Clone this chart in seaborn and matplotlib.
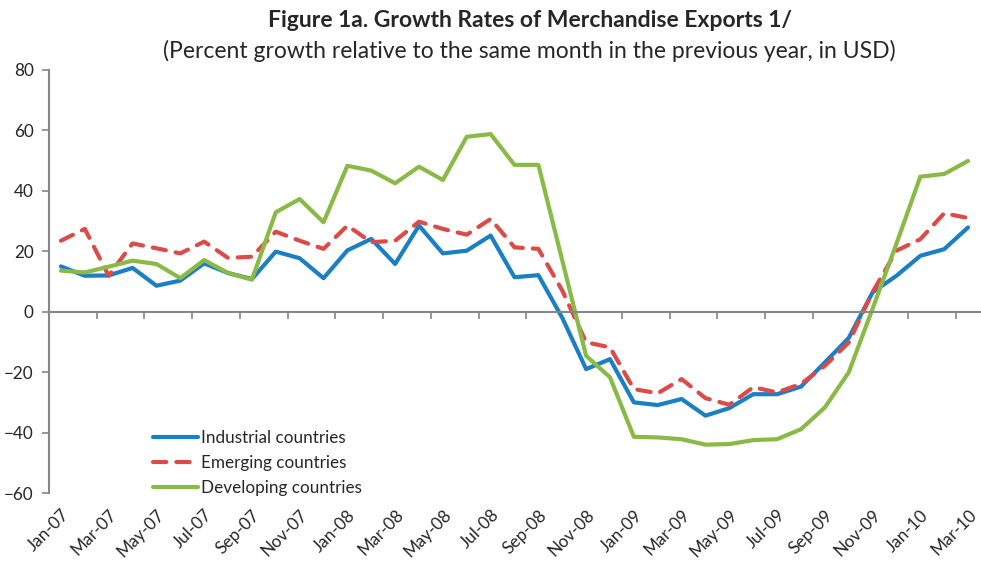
import pandas as pd
import matplotlib
matplotlib.use('Agg')
import matplotlib.pyplot as plt
import seaborn as sns

# Monthly data, Jan-07 .. Mar-10 (percent growth y/y, USD)
months = pd.date_range('2007-01-01', '2010-03-01', freq='MS').strftime('%b-%y').tolist()
industrial = [15.0, 11.9, 12.0, 14.5, 8.6, 10.3, 16.0, 12.8, 10.8, 19.9, 17.7, 11.1, 20.3,
              24.1, 15.8, 28.5, 19.3, 20.2, 25.2, 11.4, 12.1, -2.0, -19.0, -15.7, -30.0, -30.9,
              -28.9, -34.4, -31.9, -27.3, -27.3, -24.8, -16.8, -8.7, 6.4, 11.9, 18.5, 20.7, 27.9]
emerging = [23.5, 27.4, 11.9, 22.6, 21.0, 19.3, 23.2, 17.8, 18.2, 26.5, 23.5, 20.8, 28.5,
            23.0, 23.5, 29.8, 27.4, 25.5, 30.7, 21.3, 20.8, 7.0, -10.1, -11.8, -25.6, -27.0,
            -22.3, -28.6, -30.8, -25.0, -26.7, -23.9, -17.9, -10.2, 6.5, 20.2, 24.0, 32.6, 31.0]
developing = [13.6, 13.0, 14.9, 16.9, 15.8, 11.1, 17.1, 12.8, 10.6, 32.9, 37.3, 29.6, 48.3,
              46.7, 42.5, 48.0, 43.6, 57.9, 58.8, 48.6, 48.6, 17.0, -14.6, -21.7, -41.4, -41.6,
              -42.2, -44.0, -43.8, -42.5, -42.2, -38.9, -31.7, -20.1, 1.0, 22.5, 44.7, 45.6, 49.9]
series_names = ['Industrial countries', 'Emerging countries', 'Developing countries']
y_ticks = [-60, -40, -20, 0, 20, 40, 60, 80]

df = pd.DataFrame({'Industrial countries': industrial,
                   'Emerging countries': emerging,
                   'Developing countries': developing})
df['idx'] = range(len(months))
long_df = df.melt(id_vars='idx', var_name='series', value_name='growth')

sns.set_style('white')
plt.rcParams['font.family'] = ['Lato', 'DejaVu Sans']
plt.rcParams['lines.dash_capstyle'] = 'round'

fig = plt.figure(figsize=(9.81, 5.65), dpi=100)
ax = fig.add_axes([49 / 981, 72 / 565, 931 / 981, 423 / 565])

palette = {'Industrial countries': '#1a7fc3',
           'Emerging countries': '#db4b48',
           'Developing countries': '#8aba46'}
dashes = {'Industrial countries': '',
          'Emerging countries': (3.2, 2.4),
          'Developing countries': ''}
sns.lineplot(data=long_df, x='idx', y='growth', hue='series', style='series',
             hue_order=series_names, style_order=series_names,
             palette=palette, dashes=dashes, linewidth=3, ax=ax)

ax.set_xlim(-0.5, len(months) - 0.5)
ax.set_ylim(-60, 80)
ax.set_yticks(y_ticks)
ax.set_xlabel('')
ax.set_ylabel('')

gray = '#868686'
for s in ['top', 'right']:
    ax.spines[s].set_visible(False)
ax.spines['left'].set_color(gray)
ax.spines['bottom'].set_color(gray)
ax.spines['left'].set_linewidth(1.5)
ax.spines['bottom'].set_linewidth(1.5)
ax.spines['bottom'].set_position(('data', 0))

# tick marks between categories on the zero line, labels at the bottom
ax.set_xticks([i - 0.5 for i in range(0, len(months) + 1, 2)])
ax.tick_params(axis='x', bottom=True, length=5, width=1.2, color=gray, labelbottom=False)
ax.tick_params(axis='y', left=True, length=5, width=1.2, color=gray, labelsize=12.3, pad=6)

sec = ax.secondary_xaxis(location=0)
sec.set_xticks(range(0, len(months), 2))
sec.set_xticklabels(months[::2], rotation=45, ha='right', rotation_mode='anchor', fontsize=12.3)
sec.tick_params(length=0, pad=10)
sec.spines['bottom'].set_visible(False)

ax.legend(title=None, frameon=False, loc='center left', bbox_to_anchor=(0.112, 0.071),
          fontsize=12.3, handlelength=2.6, handletextpad=0.2, labelspacing=0.55,
          borderpad=0, borderaxespad=0)

fig.text(0.54, 0.964, 'Figure 1a. Growth Rates of Merchandise Exports 1/',
         ha='center', va='center', fontsize=16.5, fontweight='bold')
fig.text(0.54, 0.91, '(Percent growth relative to the same month in the previous year, in USD)',
         ha='center', va='center', fontsize=16.5)

fig.savefig('out.png', dpi=100)
